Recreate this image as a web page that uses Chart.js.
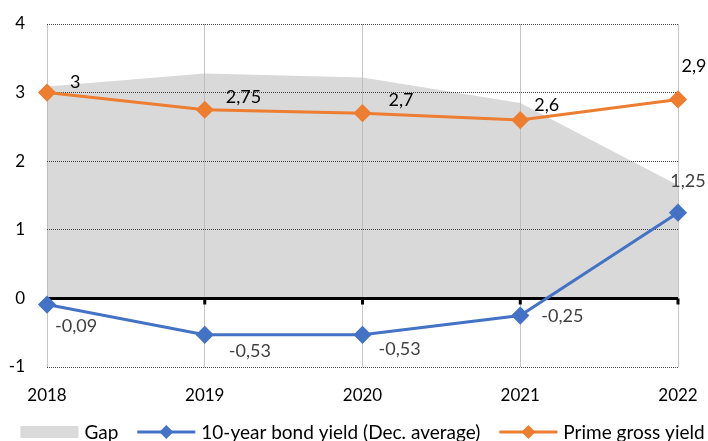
<!DOCTYPE html>
<html>
<head>
<meta charset="utf-8">
<script src="https://cdn.jsdelivr.net/npm/chart.js@4"></script>
<style>
  html, body { margin: 0; padding: 0; background: #fff; }
  #wrap { width: 708px; height: 441px; }
</style>
</head>
<body>
<div id="wrap"><canvas id="chart"></canvas></div>
<script>
// data
const years = ['2018', '2019', '2020', '2021', '2022'];
const gap = [3.09, 3.28, 3.22, 2.85, 1.65];
const bondYield = [-0.09, -0.53, -0.53, -0.25, 1.25];
const primeYield = [3, 2.75, 2.7, 2.6, 2.9];
const yTicks = [4, 3, 2, 1, 0, -1];

const BLUE = '#4472C4';
const ORANGE = '#ED7D31';
const GREY = '#D9D9D9';
const FONT = 'Lato';

// grid over the gap area, then the thick zero line with its ticks
const gridOverGap = {
  id: 'gridOverGap',
  afterDatasetDraw(chart, args) {
    if (args.index !== 0) return;
    const { ctx, chartArea, scales: { x, y } } = chart;
    x.drawGrid(chartArea);
    y.drawGrid(chartArea);
    const y0 = y.getPixelForValue(0);
    ctx.save();
    ctx.strokeStyle = '#000';
    ctx.lineWidth = 3;
    ctx.beginPath();
    ctx.moveTo(chartArea.left, y0);
    ctx.lineTo(chartArea.right, y0);
    years.forEach((_, i) => {
      const px = x.getPixelForValue(i);
      ctx.moveTo(px, y0);
      ctx.lineTo(px, y0 + 6);
    });
    ctx.stroke();
    ctx.restore();
  }
};

// value labels, comma decimals
const valueLabels = {
  id: 'valueLabels',
  afterDatasetsDraw(chart, args, opts) {
    const { ctx } = chart;
    ctx.save();
    ctx.font = '18px ' + FONT;
    ctx.textBaseline = 'middle';
    opts.series.forEach(s => {
      const meta = chart.getDatasetMeta(s.index);
      const data = chart.data.datasets[s.index].data;
      meta.data.forEach((pt, i) => {
        const txt = String(data[i]).replace('.', ',');
        ctx.fillStyle = s.color;
        ctx.textAlign = s.align[i];
        ctx.fillText(txt, pt.x + s.dx[i], pt.y + s.dy[i]);
      });
    });
    ctx.restore();
  }
};

// legend in one row: grey box for the area, line with diamond for the series
const bottomLegend = {
  id: 'bottomLegend',
  afterDraw(chart, args, opts) {
    const { ctx, chartArea } = chart;
    const sw = 58, tgap = 6, igap = 19;
    ctx.save();
    ctx.font = opts.size + 'px ' + FONT;
    ctx.textBaseline = 'middle';
    const items = chart.data.datasets.map((ds, i) => ({
      ds, kind: i === 0 ? 'box' : 'line', w: sw + tgap + ctx.measureText(ds.label).width
    }));
    const total = items.reduce((a, it) => a + it.w, 0) + igap * (items.length - 1);
    let x = (chartArea.left + chartArea.right) / 2 - total / 2;
    const y = opts.y;
    items.forEach(it => {
      if (it.kind === 'box') {
        ctx.fillStyle = it.ds.backgroundColor;
        ctx.fillRect(x, y - 6, sw, 12);
      } else {
        ctx.strokeStyle = it.ds.borderColor;
        ctx.lineWidth = 3;
        ctx.beginPath(); ctx.moveTo(x, y); ctx.lineTo(x + sw, y); ctx.stroke();
        const cx = x + sw / 2;
        ctx.fillStyle = it.ds.borderColor;
        ctx.beginPath();
        ctx.moveTo(cx, y - 7); ctx.lineTo(cx + 7, y); ctx.lineTo(cx, y + 7); ctx.lineTo(cx - 7, y);
        ctx.closePath(); ctx.fill();
      }
      ctx.fillStyle = '#000';
      ctx.textAlign = 'left';
      ctx.fillText(it.ds.label, x + sw + tgap, y + 1);
      x += it.w + igap;
    });
    ctx.restore();
  }
};

const ctx = document.getElementById('chart').getContext('2d');
new Chart(ctx, {
  type: 'line',
  data: {
    labels: years,
    datasets: [
      {
        label: 'Gap',
        data: gap,
        fill: 'origin',
        backgroundColor: GREY,
        borderWidth: 0,
        pointRadius: 0,
        order: 3,
      },
      {
        label: '10-year bond yield (Dec. average)',
        data: bondYield,
        borderColor: BLUE,
        backgroundColor: BLUE,
        borderWidth: 3,
        pointStyle: 'rectRot',
        pointRadius: 7,
        fill: false,
        order: 1,
      },
      {
        label: 'Prime gross yield',
        data: primeYield,
        borderColor: ORANGE,
        backgroundColor: ORANGE,
        borderWidth: 3,
        pointStyle: 'rectRot',
        pointRadius: 7,
        fill: false,
        order: 2,
      },
    ],
  },
  options: {
    responsive: true,
    maintainAspectRatio: false,
    animation: false,
    layout: { padding: { left: 0, right: 30, top: 24, bottom: 0 } },
    scales: {
      x: {
        offset: false,
        afterFit(scale) {
          scale.height = 74;
          scale.paddingLeft = 0;
          scale.paddingRight = 0;
        },
        grid: { color: 'rgba(0,0,0,0.12)', drawTicks: false },
        border: { display: false },
        ticks: { color: '#000', padding: 18, font: { family: FONT, size: 17 }, maxRotation: 0 },
      },
      y: {
        min: -1,
        max: 4,
        afterFit(scale) {
          scale.width = 47;
          scale.paddingTop = 0;
          scale.paddingBottom = 0;
        },
        afterBuildTicks(scale) { scale.ticks = yTicks.map(v => ({ value: v })); },
        grid: { color: '#404040', lineWidth: 1, drawTicks: false },
        border: { display: false, dash: [1, 1] },
        ticks: { color: '#000', padding: 22, font: { family: FONT, size: 17 } },
      },
    },
    plugins: {
      tooltip: { enabled: false },
      legend: { display: false },
      bottomLegend: { y: 432, size: 19 },
      valueLabels: {
        series: [
          { index: 2, color: '#000', align: ['left', 'left', 'left', 'left', 'center'],
            dx: [23, 21, 26, 14, 16], dy: [-10, -13, -13, -15, -33] },
          { index: 1, color: '#404040', align: ['left', 'left', 'left', 'left', 'center'],
            dx: [8, 24, 16, 21, 10], dy: [22, 16, 14, 1, -31] },
        ],
      },
    },
  },
  plugins: [gridOverGap, valueLabels, bottomLegend],
});
</script>
</body>
</html>
